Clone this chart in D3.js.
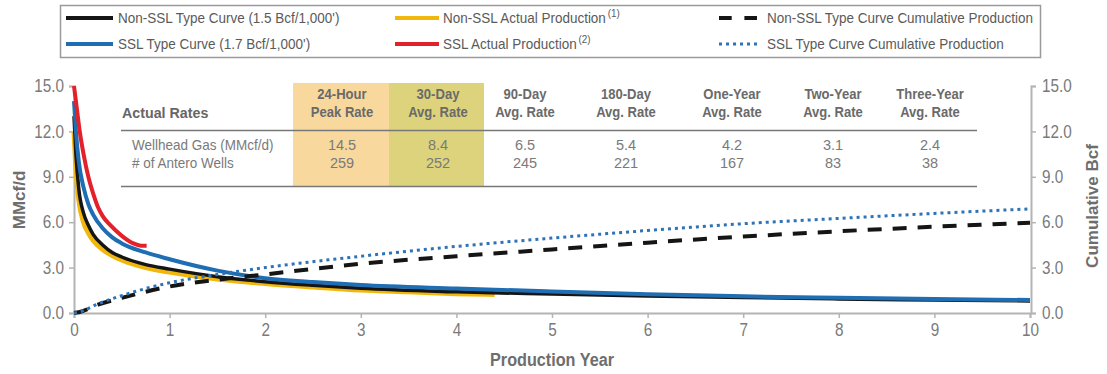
<!DOCTYPE html>
<html><head><meta charset="utf-8">
<script src="https://cdn.jsdelivr.net/npm/d3@7"></script>
<style>
body{margin:0;background:#fff;}
svg{display:block;font-family:"Liberation Sans",Arial,sans-serif;}
</style></head><body>
<svg id="c" width="1107" height="374"></svg>
<script>
// ---- data ----
const xTicks = [0,1,2,3,4,5,6,7,8,9,10];
const yTicks = [0,3,6,9,12,15];
const rateYears = [0,0.02,0.05,0.1,0.15,0.2,0.3,0.4,0.5,0.75,1,1.5,2,2.5,3,4,5,6,7,8,9,10];
const nonSslType = [13,10.5,8.2,6.6,5.8,5.2,4.5,4.0,3.7,3.2,2.9,2.4,2.07,1.83,1.63,1.4,1.25,1.12,1.02,0.93,0.86,0.8];
const sslType    = [14,12,10,8.3,7.2,6.5,5.6,5.0,4.6,4.0,3.55,2.8,2.3,2.05,1.85,1.62,1.42,1.24,1.1,1.0,0.92,0.86];
const nonSslActYears = [0,0.02,0.05,0.1,0.15,0.2,0.3,0.4,0.5,0.75,1,1.5,2,2.5,3,3.5,4,4.4];
const nonSslActual   = [12,9.5,7.5,6.0,5.3,4.8,4.2,3.8,3.5,3.0,2.7,2.25,1.95,1.72,1.52,1.4,1.28,1.22];
const sslActYears = [0,0.03,0.06,0.1,0.15,0.2,0.25,0.3,0.38,0.5,0.62,0.7,0.76];
const sslActual   = [15,13.5,12,10.5,9,7.9,7.0,6.4,5.8,5.1,4.6,4.45,4.45];
const cumYears = [0,0.05,0.25,0.5,1,1.5,2,3,4,5,6,7,8,9,10];
const nonSslCum = [0,0.05,0.55,1.0,1.75,2.2,2.55,3.25,3.75,4.2,4.65,5.05,5.4,5.7,5.97];
const sslCum    = [0,0.05,0.6,1.15,2.0,2.55,3.0,3.75,4.4,4.95,5.45,5.9,6.25,6.58,6.88];

const tableCols = ["24-Hour|Peak Rate","30-Day|Avg. Rate","90-Day|Avg. Rate","180-Day|Avg. Rate","One-Year|Avg. Rate","Two-Year|Avg. Rate","Three-Year|Avg. Rate"];
const tableRowLabels = ["Wellhead Gas (MMcf/d)","# of Antero Wells"];
const wellheadGas = ["14.5","8.4","6.5","5.4","4.2","3.1","2.4"];
const anteroWells = ["259","252","245","221","167","83","38"];

const legendItems = [
  {label:"Non-SSL Type Curve (1.5 Bcf/1,000')", sup:"", color:"#151515", kind:"solid"},
  {label:"Non-SSL Actual Production", sup:"(1)", color:"#f2b70c", kind:"solid"},
  {label:"Non-SSL Type Curve Cumulative Production", sup:"", color:"#151515", kind:"dash"},
  {label:"SSL Type Curve (1.7 Bcf/1,000')", sup:"", color:"#1f6db3", kind:"solid"},
  {label:"SSL Actual Production", sup:"(2)", color:"#e3212b", kind:"solid"},
  {label:"SSL Type Curve Cumulative Production", sup:"", color:"#2e73b8", kind:"dot"}
];

// condense text horizontally (no narrow font installed)
function condense(sel, f){
  sel.each(function(){
    const w = this.getComputedTextLength();
    d3.select(this).attr("textLength", w*f).attr("lengthAdjust","spacingAndGlyphs");
  });
}

// ---- chart ----
const svg = d3.select("#c");
const x = d3.scaleLinear().domain([0,10]).range([74,1030]);
const y = d3.scaleLinear().domain([0,15]).range([313,86]);
const yR = d3.scaleLinear().domain([0,15]).range([313,86]);
const axisCol = "#b4b4b4", textCol = "#7a7a7a";

// table backgrounds
const colX = [342,438,525,626,732,833,930];
svg.append("rect").attr("x",293).attr("y",83).attr("width",96).attr("height",104).attr("fill","#f9d89e");
svg.append("rect").attr("x",389).attr("y",83).attr("width",95).attr("height",104).attr("fill","#dcd37c");

// axes
const gx = svg.append("g").attr("transform","translate(0,313)")
  .call(d3.axisBottom(x).tickValues(xTicks).tickSize(5).tickPadding(5).tickFormat(d3.format("d")));
const gy = svg.append("g").attr("transform","translate(74,0)")
  .call(d3.axisLeft(y).tickValues(yTicks).tickSize(5).tickPadding(5).tickFormat(d3.format(".1f")));
const gr = svg.append("g").attr("transform","translate(1031,0)")
  .call(d3.axisRight(yR).tickValues(yTicks).tickSize(5).tickPadding(6).tickFormat(d3.format(".1f")));
[gx,gy,gr].forEach(g=>{
  g.select(".domain").attr("stroke",axisCol).attr("stroke-width",2);
  g.selectAll(".tick line").attr("stroke",axisCol).attr("stroke-width",1.5);
  g.selectAll(".tick text").attr("fill",textCol).attr("font-size",18).attr("font-family",'"Liberation Sans",Arial,sans-serif');
  condense(g.selectAll(".tick text"), 0.85);
});

// axis titles
svg.append("text").attr("transform","translate(25,200) rotate(-90)").attr("text-anchor","middle")
  .attr("font-size",17).attr("font-weight","bold").attr("fill","#6e6e6e").text("MMcf/d");
svg.append("text").attr("transform","translate(1098,206) rotate(-90)").attr("text-anchor","middle")
  .attr("font-size",17).attr("font-weight","bold").attr("fill","#6e6e6e").text("Cumulative Bcf");
condense(svg.append("text").attr("x",552).attr("y",366).attr("text-anchor","middle")
  .attr("font-size",18).attr("font-weight","bold").attr("fill","#6e6e6e").text("Production Year"), 0.9);

// table
const tb = svg.append("g");
condense(tb.append("text").attr("x",122).attr("y",118).attr("font-size",15).attr("font-weight","bold").attr("fill","#666").text("Actual Rates"), 0.95);
tableCols.forEach((c,i)=>{
  const parts = c.split("|");
  parts.forEach((p,j)=>condense(tb.append("text").attr("x",colX[i]).attr("y",99+j*18).attr("text-anchor","middle")
    .attr("font-size",15).attr("font-weight","bold").attr("fill","#6a6a6a").text(p), 0.87));
});
tb.append("line").attr("x1",121).attr("x2",977).attr("y1",130.5).attr("y2",130.5).attr("stroke","#777").attr("stroke-width",1.5);
tb.append("line").attr("x1",121).attr("x2",977).attr("y1",186.5).attr("y2",186.5).attr("stroke","#777").attr("stroke-width",1.5);
tableRowLabels.forEach((r,j)=>condense(tb.append("text").attr("x",132).attr("y",150+j*18).attr("font-size",14.5).attr("fill","#7a7a7a").text(r), 0.93));
[wellheadGas,anteroWells].forEach((row,j)=>row.forEach((v,i)=>tb.append("text").attr("x",colX[i]).attr("y",150+j*18)
  .attr("text-anchor","middle").attr("font-size",14.5).attr("fill","#7a7a7a").text(v)));

// lines
const line = d3.line().x(d=>x(d[0])).y(d=>y(d[1])).curve(d3.curveMonotoneX);
const zip = (a,b)=>a.map((t,i)=>[t,b[i]]);
const plot = svg.append("g");
plot.append("path").attr("d",line(zip(nonSslActYears,nonSslActual))).attr("fill","none").attr("stroke","#f2b70c").attr("stroke-width",5);
plot.append("path").attr("d",line(zip(rateYears,nonSslType))).attr("fill","none").attr("stroke","#151515").attr("stroke-width",3.5);
plot.append("path").attr("d",line(zip(rateYears,sslType))).attr("fill","none").attr("stroke","#1f6db3").attr("stroke-width",4);
plot.append("path").attr("d",line(zip(sslActYears,sslActual))).attr("fill","none").attr("stroke","#e3212b").attr("stroke-width",4);
const lineR = d3.line().x(d=>x(d[0])).y(d=>yR(d[1])).curve(d3.curveMonotoneX);
plot.append("path").attr("d",lineR(zip(cumYears,nonSslCum))).attr("fill","none").attr("stroke","#151515").attr("stroke-width",4).attr("stroke-dasharray","14,11");
plot.append("path").attr("d",lineR(zip(cumYears,sslCum))).attr("fill","none").attr("stroke","#2e73b8").attr("stroke-width",3).attr("stroke-dasharray","3,4");

// legend
const lg = svg.append("g");
lg.append("rect").attr("x",60.5).attr("y",5.5).attr("width",980).attr("height",52).attr("fill","#fff").attr("stroke","#9a9a9a").attr("stroke-width",1.5);
const lgLine = [[66,113],[395,439],[719,757]], lgText = [118,443,767], lgRowY = [18,44];
legendItems.forEach((it,i)=>{
  const c = i%3, cy = lgRowY[Math.floor(i/3)];
  const l = lg.append("line").attr("x1",lgLine[c][0]).attr("x2",lgLine[c][1]).attr("y1",cy).attr("y2",cy).attr("stroke",it.color);
  if(it.kind==="solid") l.attr("stroke-width",4);
  if(it.kind==="dash") l.attr("stroke-width",4).attr("stroke-dasharray","12.7,12.7");
  if(it.kind==="dot") l.attr("stroke-width",3).attr("stroke-dasharray","3,4");
  const g = lg.append("g").attr("transform",`translate(${lgText[c]},${cy+5}) scale(0.9,1)`);
  const t = g.append("text").attr("x",0).attr("y",0).attr("font-size",15).attr("fill","#5a5a5a").text(it.label);
  if(it.sup){
    const w = t.node().getComputedTextLength();
    g.append("text").attr("x",w+2).attr("y",-6).attr("font-size",11).attr("fill","#5a5a5a").text(it.sup);
  }
});
</script>
</body></html>
